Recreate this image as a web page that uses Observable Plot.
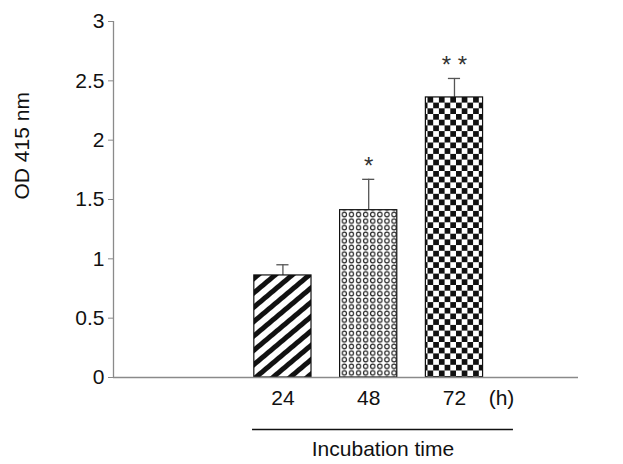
<!DOCTYPE html>
<html>
<head>
<meta charset="utf-8">
<script src="https://cdn.jsdelivr.net/npm/d3@7"></script>
<script src="https://cdn.jsdelivr.net/npm/@observablehq/plot@0.6"></script>
<style>
  html, body { margin: 0; padding: 0; background: #fff; }
  #chart { width: 623px; height: 464px; }
</style>
</head>
<body>
<div id="chart"></div>
<script>
// ---- data ----
const hours = [24, 48, 72];
const means = [0.86, 1.41, 2.36];
const errHigh = [0.95, 1.67, 2.52];
const signif = ["", "*", "* *"];
const patterns = ["stripes", "dots", "checker"];
const yTicks = [0, 0.5, 1, 1.5, 2, 2.5, 3];
const xLabel = "Incubation time";
const yLabel = "OD 415 nm";
const unitLabel = "(h)";

const data = hours.map((h, i) => ({
  h, mean: means[i], hi: errHigh[i], sig: signif[i], fill: `url(#${patterns[i]})`
}));

const xDomain = [-23.4, 106.7];
const halfBar = 8;      // bar half-width in hours
const halfCap = 1.7;    // error cap half-width in hours
const axisGrey = "#8a8a8a";
const fs = 21;

const svg = Plot.plot({
  width: 623,
  height: 464,
  marginLeft: 113,
  marginTop: 21,
  marginBottom: 87,
  marginRight: 45,
  x: { domain: xDomain, axis: null },
  y: { domain: [0, 3], axis: null },
  color: { type: "identity" },
  style: { fontFamily: "'Liberation Sans', Arial, sans-serif", fontSize: fs + "px", background: "#fff", color: "#000" },
  marks: [
    Plot.axisY({ ticks: yTicks, tickSize: 5, stroke: axisGrey, label: null, text: null }),
    Plot.text(yTicks, { y: d => d, frameAnchor: "left", dx: -9, textAnchor: "end", text: d => String(d), fontSize: fs, fill: "#111" }),
    Plot.ruleX([xDomain[0]], { y1: 0, y2: 3, stroke: axisGrey, strokeWidth: 1.3 }),
    // error bars
    Plot.ruleX(data, { x: "h", y1: "mean", y2: "hi", stroke: "#555", strokeWidth: 1.3 }),
    Plot.ruleY(data, { y: "hi", x1: d => d.h - halfCap, x2: d => d.h + halfCap, stroke: "#555", strokeWidth: 1.3 }),
    // bars
    Plot.rect(data, { x1: d => d.h - halfBar, x2: d => d.h + halfBar, y1: 0, y2: "mean", fill: "fill", stroke: "#111", strokeWidth: 1.2 }),
    Plot.ruleY([0], { stroke: axisGrey, strokeWidth: 1.5 }),
    // significance
    Plot.text(data, { x: "h", y: "hi", text: "sig", dy: -13, fontSize: 24, fill: "#333" }),
    // x labels
    Plot.text(hours, { x: d => d, frameAnchor: "bottom", dy: 27, text: d => String(d), fontSize: fs, fill: "#111" }),
    Plot.text([unitLabel], { x: hours[hours.length - 1], frameAnchor: "bottom", dx: 47, dy: 27, fontSize: fs, fill: "#111" }),
    Plot.ruleY([0], { x1: hours[0] - halfBar - 0.5, x2: hours[hours.length - 1] + 16.5, dy: 52, stroke: "#111", strokeWidth: 1.5 }),
    Plot.text([xLabel], { x: (hours[0] - halfBar - 0.5 + hours[hours.length - 1] + 16.5) / 2, frameAnchor: "bottom", dy: 78, fontSize: 21, fill: "#111" }),
    Plot.text([yLabel], { frameAnchor: "left", dx: -91, rotate: -90, fontSize: 21, fill: "#111" })
  ]
});

const ns = "http://www.w3.org/2000/svg";
const defs = document.createElementNS(ns, "defs");
defs.innerHTML = `
  <pattern id="stripes" patternUnits="userSpaceOnUse" width="11" height="11" patternTransform="rotate(-40)">
    <rect width="11" height="11" fill="#fff"/>
    <rect width="11" height="5" fill="#111"/>
  </pattern>
  <pattern id="dots" patternUnits="userSpaceOnUse" width="7.1" height="6.6">
    <rect width="7.1" height="6.6" fill="#fff"/>
    <circle cx="3.55" cy="3.3" r="2.2" fill="none" stroke="#222" stroke-width="1.1"/>
  </pattern>
  <pattern id="checker" patternUnits="userSpaceOnUse" width="11.4" height="11.4">
    <rect width="11.4" height="11.4" fill="#fff"/>
    <rect width="5.7" height="5.7" fill="#111"/>
    <rect x="5.7" y="5.7" width="5.7" height="5.7" fill="#111"/>
  </pattern>`;
svg.insertBefore(defs, svg.firstChild);
document.getElementById("chart").appendChild(svg);
</script>
</body>
</html>
